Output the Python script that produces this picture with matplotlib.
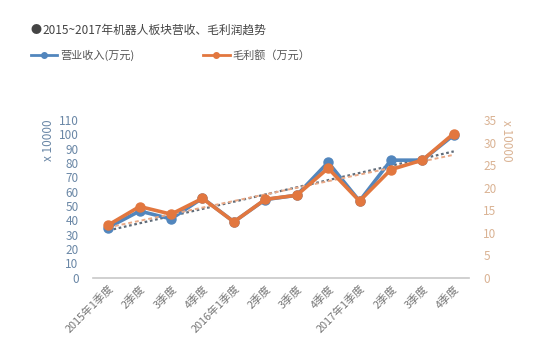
import matplotlib.pyplot as plt
import numpy as np

plt.rcParams['font.family'] = ['Noto Sans CJK SC', 'DejaVu Sans']

# 季度标签
quarters = ['2015年1季度', '2季度', '3季度', '4季度',
            '2016年1季度', '2季度', '3季度', '4季度',
            '2017年1季度', '2季度', '3季度', '4季度']
# 营业收入 (x10000 万元) 与 毛利额 (x10000 万元)
revenue = [35, 46.5, 41, 55.5, 39, 54.5, 57.5, 80.5, 53.5, 82, 82, 99.5]
profit = [11.7, 15.8, 14.1, 17.6, 12.4, 17.4, 18.3, 24.3, 17.0, 24.0, 26.1, 32.0]

blue = '#5286bd'
orange = '#e2773f'

fig = plt.figure(figsize=(5.51, 3.53), dpi=100)
ax = fig.add_axes([0.168, 0.2133, 0.684, 0.4467])
ax2 = ax.twinx()

x = np.arange(len(quarters))

ax.plot(x, revenue, color=blue, lw=2.6, marker='o', ms=6.5, zorder=3)
ax2.plot(x, profit, color=orange, lw=2.6, marker='o', ms=6.5, zorder=3)

# 线性趋势线
k1, b1 = np.polyfit(x, revenue, 1)
k2, b2 = np.polyfit(x, profit, 1)
ax.plot(x, k1 * x + b1, color='#5f6b78', lw=1.6, ls=(0, (1.2, 1.2)), zorder=2)
ax2.plot(x, k2 * x + b2, color='#e9a987', lw=1.4, ls=(0, (2, 1.5)), zorder=2)

ax.set_xlim(-0.5, len(quarters) - 0.5)
ax.set_ylim(0, 110)
ax2.set_ylim(0, 35)
ax.set_yticks(range(0, 111, 10))
ax2.set_yticks(range(0, 36, 5))

for a in (ax, ax2):
    for s in a.spines.values():
        s.set_visible(False)
ax.spines['bottom'].set_visible(True)
ax.spines['bottom'].set_color('#c8c8c8')
ax.spines['bottom'].set_linewidth(1.2)

ax.tick_params(axis='y', length=0, labelsize=8.5, colors='#6a87a6', pad=10)
ax2.tick_params(axis='y', length=0, labelsize=8.5, colors='#dab394', pad=10)
ax.tick_params(axis='x', length=0, labelsize=7.8, colors='#777777', pad=4)

ax.set_xticks(x)
ax.set_xticklabels(quarters, rotation=45, ha='right', rotation_mode='anchor')

ax.set_ylabel('x 10000', color='#6a87a6', fontsize=8.5)
ax2.set_ylabel('x 10000', color='#dab394', fontsize=8.5, rotation=-90)
ax.yaxis.set_label_coords(-0.1, 0.87)
ax2.yaxis.set_label_coords(1.115, 0.87)

# 标题与图例
fig.text(0.056, 0.915, '●', color='#444444', fontsize=8, va='center')
fig.text(0.078, 0.915, '2015~2017年机器人板块营收、毛利润趋势', color='#444444',
         fontsize=8.5, va='center')
fig.add_artist(plt.Line2D([0.056, 0.08, 0.104], [0.844, 0.844, 0.844], color=blue,
                          lw=2, marker='o', ms=4, markevery=[1],
                          transform=fig.transFigure))
fig.text(0.109, 0.844, '营业收入(万元)', color='#555555', fontsize=8, va='center')
fig.add_artist(plt.Line2D([0.368, 0.392, 0.417], [0.844, 0.844, 0.844], color=orange,
                          lw=2, marker='o', ms=4, markevery=[1],
                          transform=fig.transFigure))
fig.text(0.421, 0.844, '毛利额（万元）', color='#555555', fontsize=8, va='center')

fig.savefig('out.png', dpi=100, facecolor='white')
